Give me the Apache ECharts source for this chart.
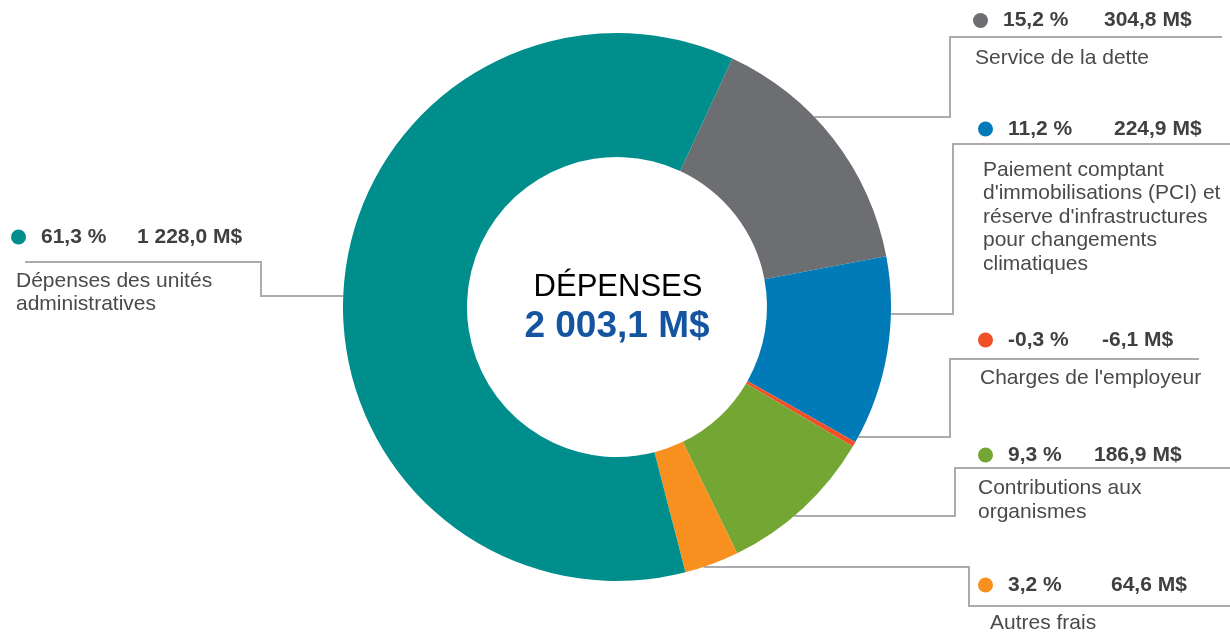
<!DOCTYPE html>
<html>
<head>
<meta charset="UTF-8">
<title>Dépenses</title>
<script src="https://cdn.jsdelivr.net/npm/echarts@6/dist/echarts.min.js"></script>
<style>
  html, body { margin: 0; padding: 0; background: #fff; }
  #main { width: 1230px; height: 633px; }
</style>
</head>
<body>
<div id="main"></div>
<script type="text/javascript">
// données (M$), dans l'ordre horaire depuis le haut
var categories = [
  'Service de la dette',
  "Paiement comptant\nd'immobilisations (PCI) et\nréserve d'infrastructures\npour changements\nclimatiques",
  "Charges de l'employeur",
  'Contributions aux\norganismes',
  'Autres frais',
  'Dépenses des unités\nadministratives'
];
var amounts = [304.8, 224.9, -6.1, 186.9, 64.6, 1228.0];
var colors = ['#6D6E71', '#007BB8', '#EF5029', '#74A634', '#F7901E', '#008E8C'];
var centerTitle = 'DÉPENSES';

// mise en page
var CX = 617, CY = 307, R0 = 150, R = 274;
var FONT = '"Liberation Sans", Arial, sans-serif';
// x: gauche de la pastille, hy: centre de l'entête, H: hauteur de l'entête,
// gap: largeur du pourcentage, ly/ex/uy/ux: trajet de la ligne de rappel
var labelPos = [
  {x: 973, hy: 20.5, H: 52, gap: 101, indent: 2, ly: 117, ex: 950, uy: 37, ux: 1222, side: 1},
  {x: 978, hy: 129, H: 58, gap: 106, indent: 5, ly: 314, ex: 953, uy: 144, ux: 1230, side: 1},
  {x: 978, hy: 340, H: 53, gap: 94, indent: 2, ly: 437, ex: 950, uy: 359, ux: 1199, side: 1},
  {x: 978, hy: 455, H: 43, gap: 86, indent: 0, ly: 516, ex: 955, uy: 468, ux: 1230, side: 1},
  {x: 978, hy: 585, H: 53, gap: 103, indent: 12, ly: 567, ex: 969, uy: 606, ux: 1230, side: 1},
  {x: 11, hy: 237, H: 64, gap: 96, indent: 5, ly: 296, ex: 261, uy: 262, ux: 25, side: -1}
];

function fmt(v, dec) {
  var s = Math.abs(v).toFixed(dec).split('.');
  var ent = s[0].replace(/\B(?=(\d{3})+(?!\d))/g, ' ');
  return (v < 0 ? '-' : '') + ent + ',' + s[1];
}

var total = 0;
amounts.forEach(function (v) { total += v; });

var rich = {
  sp: {width: 15, fontSize: 10}
};
var pieData = [];
for (var i = 0; i < amounts.length; i++) {
  rich['dot' + i] = {width: 15, height: 15, borderRadius: 7.5, backgroundColor: colors[i], fontSize: 10};
  rich['pct' + i] = {fontSize: 21, fontWeight: 'bold', color: '#404040', fontFamily: FONT,
    width: labelPos[i].gap, lineHeight: labelPos[i].H};
  rich['name' + i] = {fontSize: 21, color: '#4a4a4a', fontFamily: FONT, lineHeight: 23.5,
    padding: [0, 0, 0, labelPos[i].indent]};
  pieData.push({
    name: categories[i],
    value: Math.abs(amounts[i]),
    itemStyle: {color: colors[i]}
  });
}
rich.val = {fontSize: 21, fontWeight: 'bold', color: '#404040', fontFamily: FONT};

var myChart = echarts.init(document.getElementById('main'));
var option = {
  animation: false,
  textStyle: {fontFamily: FONT},
  graphic: [
    {
      type: 'text', x: CX + 1, y: 287, silent: true,
      style: {text: centerTitle, fill: '#000', font: '31px ' + FONT,
        textAlign: 'center', textVerticalAlign: 'middle'}
    },
    {
      type: 'text', x: CX, y: 327, silent: true,
      style: {text: fmt(total, 1) + ' M$', fill: '#1454A0', font: 'bold 37px ' + FONT,
        textAlign: 'center', textVerticalAlign: 'middle'}
    }
  ],
  series: [{
    type: 'pie',
    center: [CX, CY],
    radius: [R0, R],
    startAngle: 65.1,
    clockwise: true,
    avoidLabelOverlap: false,
    emphasis: {disabled: true},
    itemStyle: {borderWidth: 0},
    label: {
      show: true,
      position: 'outside',
      overflow: 'none',
      fontFamily: FONT,
      formatter: function (p) {
        var k = p.dataIndex;
        var a = amounts[k];
        return '{dot' + k + '| }{sp| }{pct' + k + '|' + fmt(a / total * 100, 1) + ' %}{val|' +
          fmt(a, 1) + ' M$}\n{name' + k + '|' + categories[k] + '}';
      },
      rich: rich
    },
    labelLine: {
      show: true,
      length: 10,
      length2: 10,
      lineStyle: {color: '#ababab', width: 2}
    },
    labelLayout: function (params) {
      var L = labelPos[params.dataIndex];
      var dy = L.ly - CY;
      var sx = CX + L.side * Math.sqrt(R * R - dy * dy);
      return {
        x: L.x,
        y: L.hy - L.H / 2,
        align: 'left',
        verticalAlign: 'top',
        labelLinePoints: [[sx, L.ly], [L.ex, L.ly], [L.ex, L.uy], [L.ux, L.uy]]
      };
    },
    data: pieData
  }]
};
myChart.setOption(option);
</script>
</body>
</html>
